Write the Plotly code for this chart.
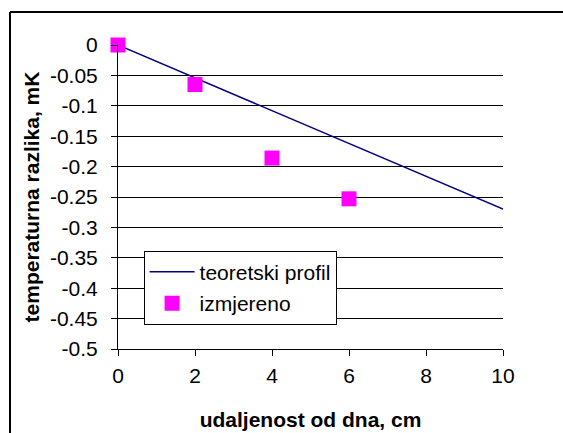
import plotly.graph_objects as go

# Data
theory_x = [0, 10]
theory_y = [0, -0.27]
meas_x = [0, 2, 4, 6]
meas_y = [0, -0.065, -0.186, -0.253]
x_ticks = [0, 2, 4, 6, 8, 10]
y_ticks = [0, -0.05, -0.1, -0.15, -0.2, -0.25, -0.3, -0.35, -0.4, -0.45, -0.5]
y_ticktext = ["0", "-0.05", "-0.1", "-0.15", "-0.2", "-0.25", "-0.3", "-0.35", "-0.4", "-0.45", "-0.5"]

FONT = "Liberation Sans, Arial, sans-serif"

L, T, PW, PH = 118, 45, 385, 304
W, H = 563, 433

fig = go.Figure()
fig.add_trace(go.Scatter(
    x=theory_x, y=theory_y, mode="lines", name="teoretski profil",
    line=dict(color="#000080", width=1.5), legendgroup="a",
))
fig.add_trace(go.Scatter(
    x=meas_x, y=meas_y, mode="markers", name="izmjereno",
    marker=dict(symbol="square", color="#ff00ff", size=15, line=dict(width=0)),
    legendgroup="b", cliponaxis=False,
))

bx = (10 - L) / PW
by = 1 + (T - 12) / PH

fig.update_layout(
    width=W, height=H,
    margin=dict(l=L, r=W - L - PW, t=T, b=H - T - PH),
    paper_bgcolor="white", plot_bgcolor="white",
    font=dict(family=FONT, size=21, color="black"),
    showlegend=True,
    legend=dict(
        x=(143.6 - L) / PW, y=1 - (250.7 - T) / PH, xanchor="left", yanchor="top",
        bgcolor="white", bordercolor="black", borderwidth=1,
        font=dict(family=FONT, size=21, color="black"),
        tracegroupgap=1, traceorder="grouped", itemwidth=45,
    ),
    xaxis=dict(
        range=[0, 10], tickvals=x_ticks, ticktext=[str(v) for v in x_ticks],
        showgrid=False, zeroline=False, showline=True, linecolor="black", linewidth=1,
        ticks="outside", ticklen=6, tickcolor="black", tickwidth=1,
        ticklabelstandoff=2, automargin=False,
        title=dict(text="<b>udaljenost od dna, cm</b>", font=dict(family=FONT, size=21), standoff=26),
    ),
    yaxis=dict(
        range=[-0.5, 0], tickvals=y_ticks, ticktext=y_ticktext,
        showgrid=True, gridcolor="black", gridwidth=1,
        zeroline=False, showline=True, linecolor="black", linewidth=1,
        ticks="outside", ticklen=6, tickcolor="black", tickwidth=1,
        ticklabelstandoff=9, automargin=False,
        title=dict(text="<b>temperaturna razlika, mK</b>", font=dict(family=FONT, size=21), standoff=4),
    ),
    shapes=[
        dict(type="line", xref="paper", yref="paper",
             x0=bx, x1=bx, y0=by, y1=-1,
             line=dict(color="black", width=2)),
        dict(type="line", xref="paper", yref="paper",
             x0=bx, x1=2, y0=by, y1=by,
             line=dict(color="black", width=2)),
    ],
)

fig.write_html(
    "out.html",
    config={"displayModeBar": False},
    post_script="document.body.style.margin='0';document.body.style.overflow='hidden';",
)
